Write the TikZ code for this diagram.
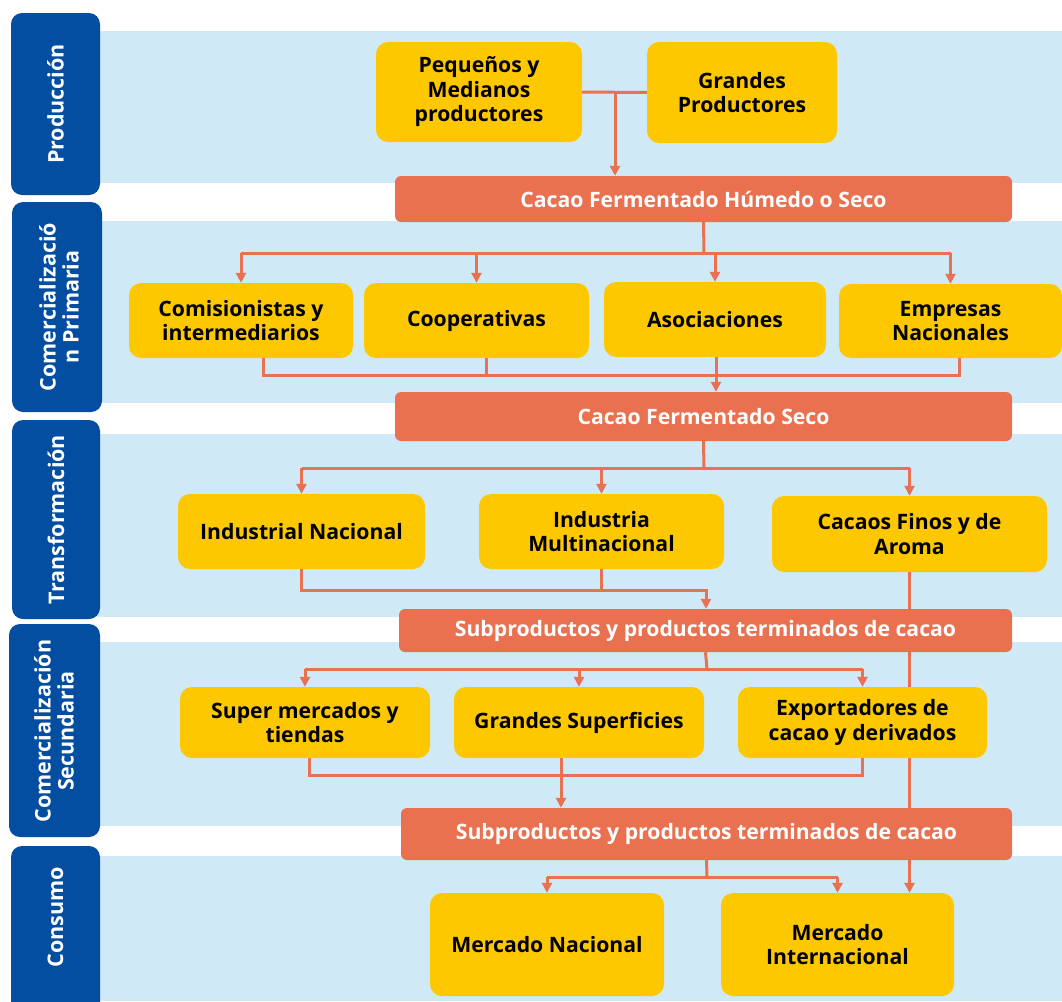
\documentclass[tikz,border=0pt]{standalone}
\usepackage{fontspec}
\setmainfont{Open Sans}
\usetikzlibrary{arrows.meta,calc}
\definecolor{tabblue}{RGB}{4,78,162}
\definecolor{bandblue}{RGB}{208,233,247}
\definecolor{boxyellow}{RGB}{253,200,0}
\definecolor{barorange}{RGB}{233,113,80}
\pgfdeclarelayer{back}
\pgfdeclarelayer{mid}
\pgfsetlayers{back,mid,main}
\begin{document}
\begin{tikzpicture}[x=1pt,y=-1pt,
  box/.style={fill=boxyellow, rounded corners=12pt, align=center, inner sep=0pt,
    font=\bfseries\fontsize{21.2}{24.5}\selectfont},
  bar/.style={fill=barorange, rounded corners=6pt, text=white, inner sep=0pt,
    font=\bfseries\fontsize{21.2}{24}\selectfont},
  tab/.style={fill=tabblue, rounded corners=11pt, inner sep=0pt},
  tablabel/.style={rotate=90, text=white, align=center,
    font=\bfseries\fontsize{21.5}{23}\selectfont},
  band/.style={fill=bandblue},
  link/.style={draw=barorange, line width=3pt},
  arr/.style={link, -{Triangle[length=10pt,width=10pt]}}
]
\useasboundingbox (0,0) rectangle (1062,1001);
\clip (0,0) rectangle (1062,1001);

% ---------- nodes ----------
\node[box, minimum width=206pt, minimum height=100pt] (pym) at (479,92) {Pequeños y\\Medianos\\productores};
\node[box, minimum width=190pt, minimum height=101pt] (gp) at (742,92.5) {Grandes\\Productores};
\node[bar, minimum width=617pt, minimum height=46pt] (bar1) at (703.5,199) {Cacao Fermentado Húmedo o Seco};

\node[box, minimum width=224pt, minimum height=75pt] (com) at (241,320.5) {Comisionistas y\\intermediarios};
\node[box, minimum width=225pt, minimum height=75pt] (coop) at (476.5,320.5) {Cooperativas};
\node[box, minimum width=222pt, minimum height=75pt] (aso) at (715,319.5) {Asociaciones};
\node[box, minimum width=223pt, minimum height=74pt] (emp) at (950.5,321) {Empresas\\Nacionales};
\node[bar, minimum width=617pt, minimum height=49pt] (bar2) at (703.5,416.5) {Cacao Fermentado Seco};

\node[box, minimum width=247pt, minimum height=75pt] (ind) at (301.5,531.5) {Industrial Nacional};
\node[box, minimum width=245pt, minimum height=75pt] (mul) at (601.5,531.5) {Industria\\Multinacional};
\node[box, minimum width=275pt, minimum height=76pt] (fin) at (909.5,534) {Cacaos Finos y de\\Aroma};
\node[bar, minimum width=613pt, minimum height=43pt] (bar3) at (705.5,630.5) {Subproductos y productos terminados de cacao};

\node[box, minimum width=250pt, minimum height=71pt] (sup) at (305,722.5) {Super mercados y\\tiendas};
\node[box, minimum width=250pt, minimum height=71pt] (gs) at (579,722.5) {Grandes Superficies};
\node[box, minimum width=249pt, minimum height=71pt] (exp) at (862.5,722.5) {Exportadores de\\cacao y derivados};
\node[bar, minimum width=611pt, minimum height=52pt] (bar4) at (706.5,834) {Subproductos y productos terminados de cacao};

\node[box, minimum width=234pt, minimum height=103pt] (mn) at (547,944.5) {Mercado Nacional};
\node[box, minimum width=233pt, minimum height=103pt] (mi) at (837.5,944.5) {Mercado\\Internacional};

% ---------- background: bands and tabs ----------
\begin{pgfonlayer}{back}
  \fill[band] (97,31) rectangle (1062,183);
  \fill[band] (97,221) rectangle (1062,403);
  \fill[band] (97,434) rectangle (1062,617);
  \fill[band] (97,642) rectangle (1062,826);
  \fill[band] (97,856) rectangle (1062,1001);
  \node[tab, minimum width=89pt, minimum height=182pt] (t1) at (55.5,104) {};
  \node[tab, minimum width=90pt, minimum height=210pt] (t2) at (57,307) {};
  \node[tab, minimum width=88pt, minimum height=199pt] (t3) at (56,519.5) {};
  \node[tab, minimum width=91pt, minimum height=213pt] (t4) at (54.5,730.5) {};
  \node[tab, minimum width=89pt, minimum height=180pt] (t5) at (55.5,936) {};
\end{pgfonlayer}
\node[tablabel] (l1) at (t1.center) {Producción};
\node[tablabel] (l2) at (59,307) {Comercializació\\n Primaria};
\node[tablabel] (l3) at (t3.center) {Transformación};
\node[tablabel] (l4) at (54,731) {Comercialización\\Secundaria};
\node[tablabel] (l5) at (55.5,917) {Consumo};

% ---------- connectors ----------
\begin{pgfonlayer}{mid}
  % production
  \draw[link] (pym.east) -- (gp.west);
  \coordinate (j0) at (615,92);
  \draw[arr] (j0) -- (j0 |- bar1.north);
  % primary commercialisation
  \coordinate (j1) at (704,253);
  \draw[link] (bar1.south) -- (j1);
  \draw[link] (com.north |- j1) -- (emp.north |- j1);
  \draw[arr] (com.north |- j1) -- (com.north);
  \draw[arr] (coop.north |- j1) -- (coop.north);
  \draw[arr] (aso.north |- j1) -- (aso.north);
  \draw[arr] (emp.north |- j1) -- (emp.north);
  \coordinate (c2) at (716,375);
  \draw[link] ([xshift=22pt]com.south) |- (c2) -| ([xshift=9pt]emp.south);
  \draw[link] ([xshift=9.5pt]coop.south) -- ([xshift=9.5pt]coop.south |- c2);
  \draw[arr] ([xshift=1pt]aso.south) -- ([xshift=1pt]aso.south |- bar2.north);
  % transformation
  \coordinate (j3) at (704,468);
  \draw[link] (bar2.south) -- (j3);
  \draw[link] (ind.north |- j3) -- (fin.north |- j3);
  \draw[arr] (ind.north |- j3) -- (ind.north);
  \draw[arr] (mul.north |- j3) -- (mul.north);
  \draw[arr] (fin.north |- j3) -- (fin.north);
  \coordinate (c3) at (706,590);
  \draw[arr] (ind.south) |- (c3) -- (c3 |- bar3.north);
  \draw[link] (mul.south) -- (mul.south |- c3);
  \draw[arr] (fin.south) -- (fin.south |- mi.north);
  % secondary commercialisation
  \coordinate (j4) at (707,669);
  \draw[link] (bar3.south) -- (j4);
  \draw[link] (sup.north |- j4) -- (exp.north |- j4);
  \draw[arr] (sup.north |- j4) -- (sup.north);
  \draw[arr] (gs.north |- j4) -- (gs.north);
  \draw[arr] (exp.north |- j4) -- (exp.north);
  \coordinate (c4) at (561,775);
  \draw[link] ([xshift=4pt]sup.south) |- (c4) -| (exp.south);
  \draw[arr] ([xshift=-18pt]gs.south) -- ([xshift=-18pt]gs.south |- bar4.north);
  % consumption
  \coordinate (j5) at (707,877);
  \draw[link] (bar4.south) -- (j5);
  \draw[link] (mn.north |- j5) -- (mi.north |- j5);
  \draw[arr] (mn.north |- j5) -- (mn.north);
  \draw[arr] (mi.north |- j5) -- (mi.north);
\end{pgfonlayer}
\end{tikzpicture}
\end{document}
